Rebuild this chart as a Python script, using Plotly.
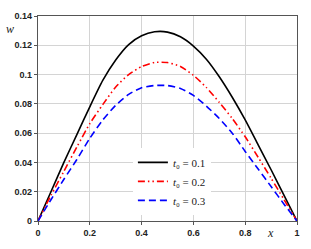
import plotly.graph_objects as go

x_vals = [0, 0.05, 0.1, 0.15, 0.2, 0.25, 0.3, 0.35, 0.4, 0.45, 0.5,
          0.55, 0.6, 0.65, 0.7, 0.75, 0.8, 0.85, 0.9, 0.95, 1.0]
w_t01 = [0, 0.020, 0.040, 0.059, 0.078, 0.096, 0.110, 0.1205, 0.1265, 0.1292, 0.1290,
         0.1258, 0.1195, 0.1105, 0.0985, 0.0845, 0.069, 0.052, 0.035, 0.0175, 0]
w_t02 = [0, 0.0175, 0.034, 0.0505, 0.0665, 0.0795, 0.0915, 0.1000, 0.1055, 0.1083, 0.1082,
         0.1055, 0.0995, 0.0912, 0.0810, 0.0700, 0.0575, 0.0435, 0.0292, 0.0146, 0]
w_t03 = [0, 0.0145, 0.0285, 0.0420, 0.0565, 0.0690, 0.0790, 0.0865, 0.0910, 0.0925, 0.0925,
         0.0905, 0.0858, 0.0785, 0.0700, 0.0600, 0.0475, 0.0355, 0.0235, 0.0115, 0]
series_names = ["<i>t</i>\u2080 = 0.1", "<i>t</i>\u2080 = 0.2", "<i>t</i>\u2080 = 0.3"]
x_ticks = [0, 0.2, 0.4, 0.6, 0.8, 1.0]
x_tick_labels = ["0", "0.2", "0.4", "0.6", "0.8", "1"]
y_ticks = [0, 0.02, 0.04, 0.06, 0.08, 0.1, 0.12, 0.14]
y_tick_labels = ["0", "0.02", "0.04", "0.06", "0.08", "0.1", "0.12", "0.14"]

fig = go.Figure()
styles = [("black", "solid"), ("#ff0000", "7px,3px,1.5px,3px,1.5px,3px"), ("#0000ff", "7px,4px")]
for ys, name, (c, d) in zip([w_t01, w_t02, w_t03], series_names, styles):
    fig.add_trace(go.Scatter(x=x_vals, y=ys, mode="lines", name=name,
                             line=dict(color=c, dash=d, width=1.6, shape="spline", smoothing=0.6)))

axis_common = dict(showgrid=True, gridcolor="#d4d4d4", gridwidth=1,
                   showline=True, linecolor="#555555", linewidth=1.2, mirror=True,
                   ticks="outside", ticklen=3, tickcolor="#555555", zeroline=False,
                   tickfont=dict(family="Liberation Sans", size=9, color="#222222", weight="bold"))
fig.update_xaxes(range=[0, 1], tickvals=x_ticks, ticktext=x_tick_labels, **axis_common)
fig.update_yaxes(range=[0, 0.14], tickvals=y_ticks, ticktext=y_tick_labels, **axis_common)

pw, ph = 311 - 38 - 11, 249 - 12 - 24
fig.update_layout(
    width=311, height=249,
    margin=dict(l=38, r=11, t=12, b=24),
    paper_bgcolor="white", plot_bgcolor="white",
    showlegend=True,
    legend=dict(x=(134 - 38) / pw, y=(225 - 149) / ph, xanchor="left", yanchor="top", bgcolor="white",
                font=dict(family="Liberation Serif", size=11, color="#222222"),
                tracegroupgap=0, itemwidth=30),
    annotations=[
        dict(text="<i>w</i>", x=(10 - 38) / pw, y=(225 - 25) / ph, xref="paper", yref="paper",
             xanchor="center", yanchor="middle", showarrow=False,
             font=dict(family="Liberation Serif", size=12, color="#222222")),
        dict(text="<i>x</i>", x=(273 - 38) / pw, y=(225 - 237) / ph, xref="paper", yref="paper",
             xanchor="center", yanchor="middle", showarrow=False,
             font=dict(family="Liberation Serif", size=12, color="#222222")),
    ],
)

fig.write_html("out.html")
